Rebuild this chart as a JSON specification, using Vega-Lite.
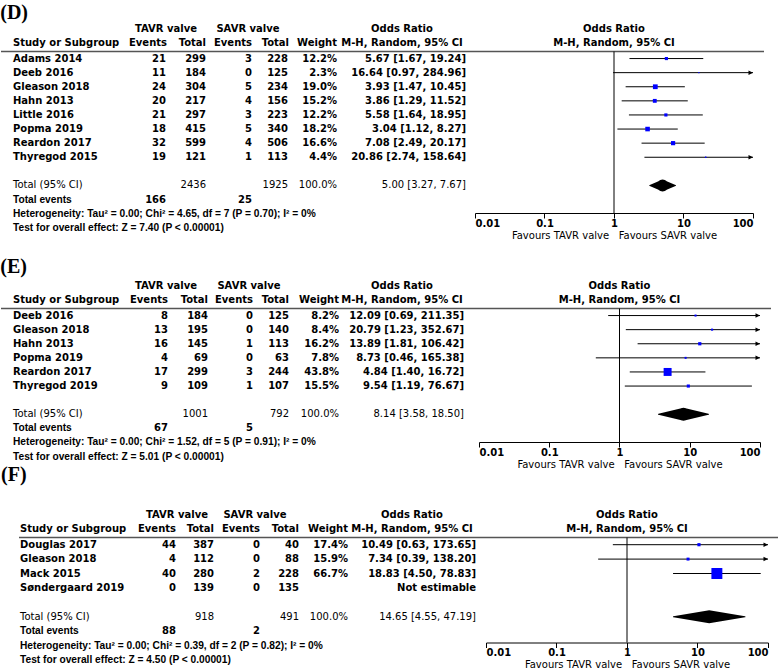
{
"$schema": "https://vega.github.io/schema/vega-lite/v6.json",
"padding": {"top": 2.5, "left": 0, "right": 0, "bottom": 0},
"bounds": "flush",
"spacing": 470,
"datasets": {
"hdr": [
{"label": "", "tavr": "TAVR valve", "savr": "SAVR valve", "orh": "Odds Ratio"},
{"label": "Study or Subgroup", "tev": "Events", "ttot": "Total", "sev": "Events", "stot": "Total", "wt": "Weight", "orh": "M-H, Random, 95% CI"}
],
"D": [
{"kind": "study", "label": "Adams 2014", "tev": "21", "ttot": "299", "sev": "3", "stot": "228", "wt": "12.2%", "ci": "5.67 [1.67, 19.24]", "or": 5.67, "lo": 1.67, "hi": 19.24, "w": 12.2},
{"kind": "study", "label": "Deeb 2016", "tev": "11", "ttot": "184", "sev": "0", "stot": "125", "wt": "2.3%", "ci": "16.64 [0.97, 284.96]", "or": 16.64, "lo": 0.97, "hi": 284.96, "w": 2.3},
{"kind": "study", "label": "Gleason 2018", "tev": "24", "ttot": "304", "sev": "5", "stot": "234", "wt": "19.0%", "ci": "3.93 [1.47, 10.45]", "or": 3.93, "lo": 1.47, "hi": 10.45, "w": 19.0},
{"kind": "study", "label": "Hahn 2013", "tev": "20", "ttot": "217", "sev": "4", "stot": "156", "wt": "15.2%", "ci": "3.86 [1.29, 11.52]", "or": 3.86, "lo": 1.29, "hi": 11.52, "w": 15.2},
{"kind": "study", "label": "Little 2016", "tev": "21", "ttot": "297", "sev": "3", "stot": "223", "wt": "12.2%", "ci": "5.58 [1.64, 18.95]", "or": 5.58, "lo": 1.64, "hi": 18.95, "w": 12.2},
{"kind": "study", "label": "Popma 2019", "tev": "18", "ttot": "415", "sev": "5", "stot": "340", "wt": "18.2%", "ci": "3.04 [1.12, 8.27]", "or": 3.04, "lo": 1.12, "hi": 8.27, "w": 18.2},
{"kind": "study", "label": "Reardon 2017", "tev": "32", "ttot": "599", "sev": "4", "stot": "506", "wt": "16.6%", "ci": "7.08 [2.49, 20.17]", "or": 7.08, "lo": 2.49, "hi": 20.17, "w": 16.6},
{"kind": "study", "label": "Thyregod 2015", "tev": "19", "ttot": "121", "sev": "1", "stot": "113", "wt": "4.4%", "ci": "20.86 [2.74, 158.64]", "or": 20.86, "lo": 2.74, "hi": 158.64, "w": 4.4},
{"kind": "total", "label": "Total (95% CI)", "ttot": "2436", "stot": "1925", "wt": "100.0%", "ci": "5.00 [3.27, 7.67]", "or": 5.00, "lo": 3.27, "hi": 7.67},
{"kind": "events", "label": "Total events", "tev": "166", "sev": "25"},
{"kind": "note", "label": "Heterogeneity: Tau² = 0.00; Chi² = 4.65, df = 7 (P = 0.70); I² = 0%"},
{"kind": "note", "label": "Test for overall effect: Z = 7.40 (P < 0.00001)"}
],
"E": [
{"kind": "study", "label": "Deeb 2016", "tev": "8", "ttot": "184", "sev": "0", "stot": "125", "wt": "8.2%", "ci": "12.09 [0.69, 211.35]", "or": 12.09, "lo": 0.69, "hi": 211.35, "w": 8.2},
{"kind": "study", "label": "Gleason 2018", "tev": "13", "ttot": "195", "sev": "0", "stot": "140", "wt": "8.4%", "ci": "20.79 [1.23, 352.67]", "or": 20.79, "lo": 1.23, "hi": 352.67, "w": 8.4},
{"kind": "study", "label": "Hahn 2013", "tev": "16", "ttot": "145", "sev": "1", "stot": "113", "wt": "16.2%", "ci": "13.89 [1.81, 106.42]", "or": 13.89, "lo": 1.81, "hi": 106.42, "w": 16.2},
{"kind": "study", "label": "Popma 2019", "tev": "4", "ttot": "69", "sev": "0", "stot": "63", "wt": "7.8%", "ci": "8.73 [0.46, 165.38]", "or": 8.73, "lo": 0.46, "hi": 165.38, "w": 7.8},
{"kind": "study", "label": "Reardon 2017", "tev": "17", "ttot": "299", "sev": "3", "stot": "244", "wt": "43.8%", "ci": "4.84 [1.40, 16.72]", "or": 4.84, "lo": 1.40, "hi": 16.72, "w": 43.8},
{"kind": "study", "label": "Thyregod 2019", "tev": "9", "ttot": "109", "sev": "1", "stot": "107", "wt": "15.5%", "ci": "9.54 [1.19, 76.67]", "or": 9.54, "lo": 1.19, "hi": 76.67, "w": 15.5},
{"kind": "total", "label": "Total (95% CI)", "ttot": "1001", "stot": "792", "wt": "100.0%", "ci": "8.14 [3.58, 18.50]", "or": 8.14, "lo": 3.58, "hi": 18.50},
{"kind": "events", "label": "Total events", "tev": "67", "sev": "5"},
{"kind": "note", "label": "Heterogeneity: Tau² = 0.00; Chi² = 1.52, df = 5 (P = 0.91); I² = 0%"},
{"kind": "note", "label": "Test for overall effect: Z = 5.01 (P < 0.00001)"}
],
"F": [
{"kind": "study", "label": "Douglas 2017", "tev": "44", "ttot": "387", "sev": "0", "stot": "40", "wt": "17.4%", "ci": "10.49 [0.63, 173.65]", "or": 10.49, "lo": 0.63, "hi": 173.65, "w": 17.4},
{"kind": "study", "label": "Gleason 2018", "tev": "4", "ttot": "112", "sev": "0", "stot": "88", "wt": "15.9%", "ci": "7.34 [0.39, 138.20]", "or": 7.34, "lo": 0.39, "hi": 138.20, "w": 15.9},
{"kind": "study", "label": "Mack 2015", "tev": "40", "ttot": "280", "sev": "2", "stot": "228", "wt": "66.7%", "ci": "18.83 [4.50, 78.83]", "or": 18.83, "lo": 4.50, "hi": 78.83, "w": 66.7},
{"kind": "study", "label": "Søndergaard 2019", "tev": "0", "ttot": "139", "sev": "0", "stot": "135", "ci": "Not estimable"},
{"kind": "total", "label": "Total (95% CI)", "ttot": "918", "stot": "491", "wt": "100.0%", "ci": "14.65 [4.55, 47.19]", "or": 14.65, "lo": 4.55, "hi": 47.19},
{"kind": "events", "label": "Total events", "tev": "88", "sev": "2"},
{"kind": "note", "label": "Heterogeneity: Tau² = 0.00; Chi² = 0.39, df = 2 (P = 0.82); I² = 0%"},
{"kind": "note", "label": "Test for overall effect: Z = 4.50 (P < 0.00001)"}
]
},
"hconcat": [
{"spacing": 95, "bounds": "flush",
 "vconcat": [
{"title": {"text": "(D)", "offset": 1},
 "width": 470, "height": 161.5,
 "layer": [
 {"data": {"values": [{}]}, "mark": {"type": "rule", "color": "#555555", "strokeWidth": 1.5},
  "encoding": {"y": {"datum": "Adams 2014", "type": "nominal", "bandPosition": 0, "scale": {"type": "band", "domain": ["", "Study or Subgroup", "Adams 2014", "Deeb 2016", "Gleason 2018", "Hahn 2013", "Little 2016", "Popma 2019", "Reardon 2017", "Thyregod 2015", " ", "Total (95% CI)", "Total events", "Heterogeneity: Tau² = 0.00; Chi² = 4.65, df = 7 (P = 0.70); I² = 0%", "Test for overall effect: Z = 7.40 (P < 0.00001)"], "range": [-28.2, 183.3], "paddingInner": 0, "paddingOuter": 0}}}},
 {"data": {"name": "D"}, "transform": [{"filter": "datum.kind == 'study'"}], "mark": {"type": "text", "align": "left", "fontWeight": "bold"},
  "encoding": {"x": {"datum": 12, "type": "quantitative", "scale": {"domain": [0, 470], "nice": false, "zero": false}, "axis": null}, "y": {"field": "label", "type": "nominal"}, "text": {"field": "label"}}},
 {"data": {"name": "D"}, "transform": [{"filter": "datum.kind == 'total'"}], "mark": {"type": "text", "align": "left"},
  "encoding": {"x": {"datum": 12, "type": "quantitative"}, "y": {"field": "label", "type": "nominal"}, "text": {"field": "label"}}},
 {"data": {"name": "D"}, "transform": [{"filter": "datum.kind == 'events' || datum.kind == 'note'"}], "mark": {"type": "text", "align": "left", "font": "Liberation Sans", "fontSize": 10.2, "fontWeight": "bold"},
  "encoding": {"x": {"datum": 12, "type": "quantitative"}, "y": {"field": "label", "type": "nominal"}, "text": {"field": "label"}}},
 {"data": {"name": "D"}, "transform": [{"filter": "datum.kind != 'total' && isValid(datum.tev)"}], "mark": {"type": "text", "align": "right", "fontWeight": "bold"},
  "encoding": {"x": {"datum": 165, "type": "quantitative"}, "y": {"field": "label", "type": "nominal"}, "text": {"field": "tev"}}},
 {"data": {"name": "D"}, "transform": [{"filter": "datum.kind != 'total' && isValid(datum.ttot)"}], "mark": {"type": "text", "align": "right", "fontWeight": "bold"},
  "encoding": {"x": {"datum": 205, "type": "quantitative"}, "y": {"field": "label", "type": "nominal"}, "text": {"field": "ttot"}}},
 {"data": {"name": "D"}, "transform": [{"filter": "datum.kind != 'total' && isValid(datum.sev)"}], "mark": {"type": "text", "align": "right", "fontWeight": "bold"},
  "encoding": {"x": {"datum": 251, "type": "quantitative"}, "y": {"field": "label", "type": "nominal"}, "text": {"field": "sev"}}},
 {"data": {"name": "D"}, "transform": [{"filter": "datum.kind != 'total' && isValid(datum.stot)"}], "mark": {"type": "text", "align": "right", "fontWeight": "bold"},
  "encoding": {"x": {"datum": 287, "type": "quantitative"}, "y": {"field": "label", "type": "nominal"}, "text": {"field": "stot"}}},
 {"data": {"name": "D"}, "transform": [{"filter": "datum.kind != 'total' && isValid(datum.wt)"}], "mark": {"type": "text", "align": "right", "fontWeight": "bold"},
  "encoding": {"x": {"datum": 336, "type": "quantitative"}, "y": {"field": "label", "type": "nominal"}, "text": {"field": "wt"}}},
 {"data": {"name": "D"}, "transform": [{"filter": "datum.kind != 'total' && isValid(datum.ci)"}], "mark": {"type": "text", "align": "right", "fontWeight": "bold"},
  "encoding": {"x": {"datum": 465, "type": "quantitative"}, "y": {"field": "label", "type": "nominal"}, "text": {"field": "ci"}}},
 {"data": {"name": "D"}, "transform": [{"filter": "datum.kind == 'total'"}], "mark": {"type": "text", "align": "right"},
  "encoding": {"x": {"datum": 205, "type": "quantitative"}, "y": {"field": "label", "type": "nominal"}, "text": {"field": "ttot"}}},
 {"data": {"name": "D"}, "transform": [{"filter": "datum.kind == 'total'"}], "mark": {"type": "text", "align": "right"},
  "encoding": {"x": {"datum": 287, "type": "quantitative"}, "y": {"field": "label", "type": "nominal"}, "text": {"field": "stot"}}},
 {"data": {"name": "D"}, "transform": [{"filter": "datum.kind == 'total'"}], "mark": {"type": "text", "align": "right"},
  "encoding": {"x": {"datum": 336, "type": "quantitative"}, "y": {"field": "label", "type": "nominal"}, "text": {"field": "wt"}}},
 {"data": {"name": "D"}, "transform": [{"filter": "datum.kind == 'total'"}], "mark": {"type": "text", "align": "right"},
  "encoding": {"x": {"datum": 465, "type": "quantitative"}, "y": {"field": "label", "type": "nominal"}, "text": {"field": "ci"}}},
 {"data": {"name": "hdr"}, "transform": [{"filter": "isValid(datum.tev)"}], "mark": {"type": "text", "align": "left", "fontWeight": "bold", "dy": -1},
  "encoding": {"x": {"datum": 12, "type": "quantitative"}, "y": {"field": "label", "type": "nominal"}, "text": {"field": "label"}}},
 {"data": {"name": "hdr"}, "transform": [{"filter": "isValid(datum.tev)"}], "mark": {"type": "text", "align": "right", "fontWeight": "bold", "dy": -1},
  "encoding": {"x": {"datum": 166, "type": "quantitative"}, "y": {"field": "label", "type": "nominal"}, "text": {"field": "tev"}}},
 {"data": {"name": "hdr"}, "transform": [{"filter": "isValid(datum.ttot)"}], "mark": {"type": "text", "align": "right", "fontWeight": "bold", "dy": -1},
  "encoding": {"x": {"datum": 205, "type": "quantitative"}, "y": {"field": "label", "type": "nominal"}, "text": {"field": "ttot"}}},
 {"data": {"name": "hdr"}, "transform": [{"filter": "isValid(datum.sev)"}], "mark": {"type": "text", "align": "right", "fontWeight": "bold", "dy": -1},
  "encoding": {"x": {"datum": 251, "type": "quantitative"}, "y": {"field": "label", "type": "nominal"}, "text": {"field": "sev"}}},
 {"data": {"name": "hdr"}, "transform": [{"filter": "isValid(datum.stot)"}], "mark": {"type": "text", "align": "right", "fontWeight": "bold", "dy": -1},
  "encoding": {"x": {"datum": 288, "type": "quantitative"}, "y": {"field": "label", "type": "nominal"}, "text": {"field": "stot"}}},
 {"data": {"name": "hdr"}, "transform": [{"filter": "isValid(datum.wt)"}], "mark": {"type": "text", "align": "right", "fontWeight": "bold", "dy": -1},
  "encoding": {"x": {"datum": 336, "type": "quantitative"}, "y": {"field": "label", "type": "nominal"}, "text": {"field": "wt"}}},
 {"data": {"name": "hdr"}, "transform": [{"filter": "isValid(datum.tavr)"}], "mark": {"type": "text", "align": "center", "fontWeight": "bold", "dy": -1},
  "encoding": {"x": {"datum": 165, "type": "quantitative"}, "y": {"field": "label", "type": "nominal"}, "text": {"field": "tavr"}}},
 {"data": {"name": "hdr"}, "transform": [{"filter": "isValid(datum.savr)"}], "mark": {"type": "text", "align": "center", "fontWeight": "bold", "dy": -1},
  "encoding": {"x": {"datum": 247, "type": "quantitative"}, "y": {"field": "label", "type": "nominal"}, "text": {"field": "savr"}}},
 {"data": {"name": "hdr"}, "mark": {"type": "text", "align": "center", "fontWeight": "bold", "dy": -1},
  "encoding": {"x": {"datum": 401, "type": "quantitative"}, "y": {"field": "label", "type": "nominal"}, "text": {"field": "orh"}}}
 ]},
{"title": {"text": "(E)", "offset": 4.3},
 "width": 470, "height": 133.5,
 "layer": [
 {"data": {"values": [{}]}, "mark": {"type": "rule", "color": "#555555", "strokeWidth": 1.5},
  "encoding": {"y": {"datum": "Deeb 2016", "type": "nominal", "bandPosition": 0, "scale": {"type": "band", "domain": ["", "Study or Subgroup", "Deeb 2016", "Gleason 2018", "Hahn 2013", "Popma 2019", "Reardon 2017", "Thyregod 2019", " ", "Total (95% CI)", "Total events", "Heterogeneity: Tau² = 0.00; Chi² = 1.52, df = 5 (P = 0.91); I² = 0%", "Test for overall effect: Z = 5.01 (P < 0.00001)"], "range": [-28.2, 155.1], "paddingInner": 0, "paddingOuter": 0}}}},
 {"data": {"name": "E"}, "transform": [{"filter": "datum.kind == 'study'"}], "mark": {"type": "text", "align": "left", "fontWeight": "bold"},
  "encoding": {"x": {"datum": 12, "type": "quantitative", "scale": {"domain": [0, 470], "nice": false, "zero": false}, "axis": null}, "y": {"field": "label", "type": "nominal"}, "text": {"field": "label"}}},
 {"data": {"name": "E"}, "transform": [{"filter": "datum.kind == 'total'"}], "mark": {"type": "text", "align": "left"},
  "encoding": {"x": {"datum": 12, "type": "quantitative"}, "y": {"field": "label", "type": "nominal"}, "text": {"field": "label"}}},
 {"data": {"name": "E"}, "transform": [{"filter": "datum.kind == 'events' || datum.kind == 'note'"}], "mark": {"type": "text", "align": "left", "font": "Liberation Sans", "fontSize": 10.2, "fontWeight": "bold"},
  "encoding": {"x": {"datum": 12, "type": "quantitative"}, "y": {"field": "label", "type": "nominal"}, "text": {"field": "label"}}},
 {"data": {"name": "E"}, "transform": [{"filter": "datum.kind != 'total' && isValid(datum.tev)"}], "mark": {"type": "text", "align": "right", "fontWeight": "bold"},
  "encoding": {"x": {"datum": 167, "type": "quantitative"}, "y": {"field": "label", "type": "nominal"}, "text": {"field": "tev"}}},
 {"data": {"name": "E"}, "transform": [{"filter": "datum.kind != 'total' && isValid(datum.ttot)"}], "mark": {"type": "text", "align": "right", "fontWeight": "bold"},
  "encoding": {"x": {"datum": 207, "type": "quantitative"}, "y": {"field": "label", "type": "nominal"}, "text": {"field": "ttot"}}},
 {"data": {"name": "E"}, "transform": [{"filter": "datum.kind != 'total' && isValid(datum.sev)"}], "mark": {"type": "text", "align": "right", "fontWeight": "bold"},
  "encoding": {"x": {"datum": 252, "type": "quantitative"}, "y": {"field": "label", "type": "nominal"}, "text": {"field": "sev"}}},
 {"data": {"name": "E"}, "transform": [{"filter": "datum.kind != 'total' && isValid(datum.stot)"}], "mark": {"type": "text", "align": "right", "fontWeight": "bold"},
  "encoding": {"x": {"datum": 288, "type": "quantitative"}, "y": {"field": "label", "type": "nominal"}, "text": {"field": "stot"}}},
 {"data": {"name": "E"}, "transform": [{"filter": "datum.kind != 'total' && isValid(datum.wt)"}], "mark": {"type": "text", "align": "right", "fontWeight": "bold"},
  "encoding": {"x": {"datum": 338, "type": "quantitative"}, "y": {"field": "label", "type": "nominal"}, "text": {"field": "wt"}}},
 {"data": {"name": "E"}, "transform": [{"filter": "datum.kind != 'total' && isValid(datum.ci)"}], "mark": {"type": "text", "align": "right", "fontWeight": "bold"},
  "encoding": {"x": {"datum": 463, "type": "quantitative"}, "y": {"field": "label", "type": "nominal"}, "text": {"field": "ci"}}},
 {"data": {"name": "E"}, "transform": [{"filter": "datum.kind == 'total'"}], "mark": {"type": "text", "align": "right"},
  "encoding": {"x": {"datum": 207, "type": "quantitative"}, "y": {"field": "label", "type": "nominal"}, "text": {"field": "ttot"}}},
 {"data": {"name": "E"}, "transform": [{"filter": "datum.kind == 'total'"}], "mark": {"type": "text", "align": "right"},
  "encoding": {"x": {"datum": 288, "type": "quantitative"}, "y": {"field": "label", "type": "nominal"}, "text": {"field": "stot"}}},
 {"data": {"name": "E"}, "transform": [{"filter": "datum.kind == 'total'"}], "mark": {"type": "text", "align": "right"},
  "encoding": {"x": {"datum": 338, "type": "quantitative"}, "y": {"field": "label", "type": "nominal"}, "text": {"field": "wt"}}},
 {"data": {"name": "E"}, "transform": [{"filter": "datum.kind == 'total'"}], "mark": {"type": "text", "align": "right"},
  "encoding": {"x": {"datum": 463, "type": "quantitative"}, "y": {"field": "label", "type": "nominal"}, "text": {"field": "ci"}}},
 {"data": {"name": "hdr"}, "transform": [{"filter": "isValid(datum.tev)"}], "mark": {"type": "text", "align": "left", "fontWeight": "bold", "dy": -1},
  "encoding": {"x": {"datum": 12, "type": "quantitative"}, "y": {"field": "label", "type": "nominal"}, "text": {"field": "label"}}},
 {"data": {"name": "hdr"}, "transform": [{"filter": "isValid(datum.tev)"}], "mark": {"type": "text", "align": "right", "fontWeight": "bold", "dy": -1},
  "encoding": {"x": {"datum": 167, "type": "quantitative"}, "y": {"field": "label", "type": "nominal"}, "text": {"field": "tev"}}},
 {"data": {"name": "hdr"}, "transform": [{"filter": "isValid(datum.ttot)"}], "mark": {"type": "text", "align": "right", "fontWeight": "bold", "dy": -1},
  "encoding": {"x": {"datum": 207, "type": "quantitative"}, "y": {"field": "label", "type": "nominal"}, "text": {"field": "ttot"}}},
 {"data": {"name": "hdr"}, "transform": [{"filter": "isValid(datum.sev)"}], "mark": {"type": "text", "align": "right", "fontWeight": "bold", "dy": -1},
  "encoding": {"x": {"datum": 252, "type": "quantitative"}, "y": {"field": "label", "type": "nominal"}, "text": {"field": "sev"}}},
 {"data": {"name": "hdr"}, "transform": [{"filter": "isValid(datum.stot)"}], "mark": {"type": "text", "align": "right", "fontWeight": "bold", "dy": -1},
  "encoding": {"x": {"datum": 288, "type": "quantitative"}, "y": {"field": "label", "type": "nominal"}, "text": {"field": "stot"}}},
 {"data": {"name": "hdr"}, "transform": [{"filter": "isValid(datum.wt)"}], "mark": {"type": "text", "align": "right", "fontWeight": "bold", "dy": -1},
  "encoding": {"x": {"datum": 338, "type": "quantitative"}, "y": {"field": "label", "type": "nominal"}, "text": {"field": "wt"}}},
 {"data": {"name": "hdr"}, "transform": [{"filter": "isValid(datum.tavr)"}], "mark": {"type": "text", "align": "center", "fontWeight": "bold", "dy": -1},
  "encoding": {"x": {"datum": 165, "type": "quantitative"}, "y": {"field": "label", "type": "nominal"}, "text": {"field": "tavr"}}},
 {"data": {"name": "hdr"}, "transform": [{"filter": "isValid(datum.savr)"}], "mark": {"type": "text", "align": "center", "fontWeight": "bold", "dy": -1},
  "encoding": {"x": {"datum": 248, "type": "quantitative"}, "y": {"field": "label", "type": "nominal"}, "text": {"field": "savr"}}},
 {"data": {"name": "hdr"}, "mark": {"type": "text", "align": "center", "fontWeight": "bold", "dy": -1},
  "encoding": {"x": {"datum": 401, "type": "quantitative"}, "y": {"field": "label", "type": "nominal"}, "text": {"field": "orh"}}}
 ]},
{"title": {"text": "(F)", "offset": 25},
 "width": 470, "height": 105,
 "layer": [
 {"data": {"values": [{}]}, "mark": {"type": "rule", "color": "#555555", "strokeWidth": 1.5},
  "encoding": {"x": {"datum": 18, "type": "quantitative", "scale": {"domain": [0, 470], "nice": false, "zero": false}, "axis": null}, "x2": {"datum": 470},
   "y": {"datum": "Douglas 2017", "type": "nominal", "bandPosition": 0, "scale": {"type": "band", "domain": ["", "Study or Subgroup", "Douglas 2017", "Gleason 2018", "Mack 2015", "Søndergaard 2019", " ", "Total (95% CI)", "Total events", "Heterogeneity: Tau² = 0.00; Chi² = 0.39, df = 2 (P = 0.82); I² = 0%", "Test for overall effect: Z = 4.50 (P < 0.00001)"], "range": [-28.8, 129.6], "paddingInner": 0, "paddingOuter": 0}}}},
 {"data": {"name": "F"}, "transform": [{"filter": "datum.kind == 'study'"}], "mark": {"type": "text", "align": "left", "fontWeight": "bold"},
  "encoding": {"x": {"datum": 19, "type": "quantitative"}, "y": {"field": "label", "type": "nominal"}, "text": {"field": "label"}}},
 {"data": {"name": "F"}, "transform": [{"filter": "datum.kind == 'total'"}], "mark": {"type": "text", "align": "left"},
  "encoding": {"x": {"datum": 19, "type": "quantitative"}, "y": {"field": "label", "type": "nominal"}, "text": {"field": "label"}}},
 {"data": {"name": "F"}, "transform": [{"filter": "datum.kind == 'events' || datum.kind == 'note'"}], "mark": {"type": "text", "align": "left", "font": "Liberation Sans", "fontSize": 10.2, "fontWeight": "bold"},
  "encoding": {"x": {"datum": 19, "type": "quantitative"}, "y": {"field": "label", "type": "nominal"}, "text": {"field": "label"}}},
 {"data": {"name": "F"}, "transform": [{"filter": "datum.kind != 'total' && isValid(datum.tev)"}], "mark": {"type": "text", "align": "right", "fontWeight": "bold"},
  "encoding": {"x": {"datum": 175, "type": "quantitative"}, "y": {"field": "label", "type": "nominal"}, "text": {"field": "tev"}}},
 {"data": {"name": "F"}, "transform": [{"filter": "datum.kind != 'total' && isValid(datum.ttot)"}], "mark": {"type": "text", "align": "right", "fontWeight": "bold"},
  "encoding": {"x": {"datum": 213, "type": "quantitative"}, "y": {"field": "label", "type": "nominal"}, "text": {"field": "ttot"}}},
 {"data": {"name": "F"}, "transform": [{"filter": "datum.kind != 'total' && isValid(datum.sev)"}], "mark": {"type": "text", "align": "right", "fontWeight": "bold"},
  "encoding": {"x": {"datum": 259, "type": "quantitative"}, "y": {"field": "label", "type": "nominal"}, "text": {"field": "sev"}}},
 {"data": {"name": "F"}, "transform": [{"filter": "datum.kind != 'total' && isValid(datum.stot)"}], "mark": {"type": "text", "align": "right", "fontWeight": "bold"},
  "encoding": {"x": {"datum": 298, "type": "quantitative"}, "y": {"field": "label", "type": "nominal"}, "text": {"field": "stot"}}},
 {"data": {"name": "F"}, "transform": [{"filter": "datum.kind != 'total' && isValid(datum.wt)"}], "mark": {"type": "text", "align": "right", "fontWeight": "bold"},
  "encoding": {"x": {"datum": 347, "type": "quantitative"}, "y": {"field": "label", "type": "nominal"}, "text": {"field": "wt"}}},
 {"data": {"name": "F"}, "transform": [{"filter": "datum.kind != 'total' && isValid(datum.ci)"}], "mark": {"type": "text", "align": "right", "fontWeight": "bold"},
  "encoding": {"x": {"datum": 475, "type": "quantitative"}, "y": {"field": "label", "type": "nominal"}, "text": {"field": "ci"}}},
 {"data": {"name": "F"}, "transform": [{"filter": "datum.kind == 'total'"}], "mark": {"type": "text", "align": "right"},
  "encoding": {"x": {"datum": 213, "type": "quantitative"}, "y": {"field": "label", "type": "nominal"}, "text": {"field": "ttot"}}},
 {"data": {"name": "F"}, "transform": [{"filter": "datum.kind == 'total'"}], "mark": {"type": "text", "align": "right"},
  "encoding": {"x": {"datum": 298, "type": "quantitative"}, "y": {"field": "label", "type": "nominal"}, "text": {"field": "stot"}}},
 {"data": {"name": "F"}, "transform": [{"filter": "datum.kind == 'total'"}], "mark": {"type": "text", "align": "right"},
  "encoding": {"x": {"datum": 347, "type": "quantitative"}, "y": {"field": "label", "type": "nominal"}, "text": {"field": "wt"}}},
 {"data": {"name": "F"}, "transform": [{"filter": "datum.kind == 'total'"}], "mark": {"type": "text", "align": "right"},
  "encoding": {"x": {"datum": 475, "type": "quantitative"}, "y": {"field": "label", "type": "nominal"}, "text": {"field": "ci"}}},
 {"data": {"name": "hdr"}, "transform": [{"filter": "isValid(datum.tev)"}], "mark": {"type": "text", "align": "left", "fontWeight": "bold", "dy": -1},
  "encoding": {"x": {"datum": 19, "type": "quantitative"}, "y": {"field": "label", "type": "nominal"}, "text": {"field": "label"}}},
 {"data": {"name": "hdr"}, "transform": [{"filter": "isValid(datum.tev)"}], "mark": {"type": "text", "align": "right", "fontWeight": "bold", "dy": -1},
  "encoding": {"x": {"datum": 175, "type": "quantitative"}, "y": {"field": "label", "type": "nominal"}, "text": {"field": "tev"}}},
 {"data": {"name": "hdr"}, "transform": [{"filter": "isValid(datum.ttot)"}], "mark": {"type": "text", "align": "right", "fontWeight": "bold", "dy": -1},
  "encoding": {"x": {"datum": 213, "type": "quantitative"}, "y": {"field": "label", "type": "nominal"}, "text": {"field": "ttot"}}},
 {"data": {"name": "hdr"}, "transform": [{"filter": "isValid(datum.sev)"}], "mark": {"type": "text", "align": "right", "fontWeight": "bold", "dy": -1},
  "encoding": {"x": {"datum": 259, "type": "quantitative"}, "y": {"field": "label", "type": "nominal"}, "text": {"field": "sev"}}},
 {"data": {"name": "hdr"}, "transform": [{"filter": "isValid(datum.stot)"}], "mark": {"type": "text", "align": "right", "fontWeight": "bold", "dy": -1},
  "encoding": {"x": {"datum": 298, "type": "quantitative"}, "y": {"field": "label", "type": "nominal"}, "text": {"field": "stot"}}},
 {"data": {"name": "hdr"}, "transform": [{"filter": "isValid(datum.wt)"}], "mark": {"type": "text", "align": "right", "fontWeight": "bold", "dy": -1},
  "encoding": {"x": {"datum": 347, "type": "quantitative"}, "y": {"field": "label", "type": "nominal"}, "text": {"field": "wt"}}},
 {"data": {"name": "hdr"}, "transform": [{"filter": "isValid(datum.tavr)"}], "mark": {"type": "text", "align": "center", "fontWeight": "bold", "dy": -1},
  "encoding": {"x": {"datum": 176, "type": "quantitative"}, "y": {"field": "label", "type": "nominal"}, "text": {"field": "tavr"}}},
 {"data": {"name": "hdr"}, "transform": [{"filter": "isValid(datum.savr)"}], "mark": {"type": "text", "align": "center", "fontWeight": "bold", "dy": -1},
  "encoding": {"x": {"datum": 254, "type": "quantitative"}, "y": {"field": "label", "type": "nominal"}, "text": {"field": "savr"}}},
 {"data": {"name": "hdr"}, "mark": {"type": "text", "align": "center", "fontWeight": "bold", "dy": -1},
  "encoding": {"x": {"datum": 411, "type": "quantitative"}, "y": {"field": "label", "type": "nominal"}, "text": {"field": "orh"}}}
 ]}
 ]},
{"spacing": 95, "bounds": "flush",
 "vconcat": [
{"width": 293, "height": 161.5,
 "resolve": {"scale": {"size": "independent"}},
 "layer": [
 {"data": {"values": [{}]}, "mark": {"type": "rule", "color": "#555555", "strokeWidth": 1.5},
  "encoding": {"y": {"datum": "Adams 2014", "type": "nominal", "bandPosition": 0, "scale": {"type": "band", "domain": ["", "Study or Subgroup", "Adams 2014", "Deeb 2016", "Gleason 2018", "Hahn 2013", "Little 2016", "Popma 2019", "Reardon 2017", "Thyregod 2015", " ", "Total (95% CI)", "Total events", "Heterogeneity: Tau² = 0.00; Chi² = 4.65, df = 7 (P = 0.70); I² = 0%", "Test for overall effect: Z = 7.40 (P < 0.00001)"], "range": [-28.2, 183.3], "paddingInner": 0, "paddingOuter": 0}}}},
 {"data": {"values": [{}]}, "mark": {"type": "rule", "color": "black", "strokeWidth": 1},
  "encoding": {"x": {"datum": 1, "type": "quantitative", "scale": {"type": "log", "domain": [0.01, 100], "range": [4, 282], "clamp": true, "nice": false},
   "axis": {"orient": "bottom", "values": [0.01, 0.1, 1, 10, 100], "format": "~g", "labelFlush": true, "labelFont": "DejaVu Sans", "labelFontWeight": "bold", "labelFontSize": 10, "labelColor": "black", "labelPadding": 0, "tickColor": "black", "tickSize": 5, "domainColor": "black", "domainWidth": 1, "grid": false, "title": "Favours TAVR valve\u00a0\u00a0\u00a0Favours SAVR valve", "titleFont": "DejaVu Sans", "titleFontWeight": "normal", "titleFontSize": 10, "titleColor": "black", "titlePadding": 2}}}},
 {"data": {"name": "D"}, "transform": [{"filter": "datum.kind == 'study' && isValid(datum.lo)"}], "mark": {"type": "rule", "color": "black", "strokeWidth": 1},
  "encoding": {"x": {"field": "lo", "type": "quantitative"}, "x2": {"field": "hi"}, "y": {"field": "label", "type": "nominal"}}},
 {"data": {"name": "D"}, "transform": [{"filter": "datum.kind == 'study' && datum.hi > 100"}], "mark": {"type": "point", "shape": "M-2,-1L0,0L-2,1Z", "filled": true, "color": "black", "opacity": 1, "size": 20, "strokeWidth": 0},
  "encoding": {"x": {"field": "hi", "type": "quantitative"}, "y": {"field": "label", "type": "nominal"}}},
 {"data": {"name": "D"}, "transform": [{"filter": "datum.kind == 'study' && isValid(datum.or)"}], "mark": {"type": "square", "color": "#0000ff", "opacity": 1},
  "encoding": {"x": {"field": "or", "type": "quantitative"}, "y": {"field": "label", "type": "nominal"}, "size": {"field": "w", "type": "quantitative", "scale": {"type": "pow", "exponent": 2, "domain": [0, 20], "range": [1, 25]}, "legend": null}}},
 {"data": {"name": "D"}, "transform": [{"filter": "datum.kind == 'total'"}, {"fold": ["lo", "or", "hi"], "as": ["k", "v"]}], "mark": {"type": "trail", "color": "black"},
  "encoding": {"x": {"field": "v", "type": "quantitative"}, "y": {"field": "label", "type": "nominal"}, "order": {"field": "v", "type": "quantitative"}, "size": {"field": "k", "type": "ordinal", "scale": {"type": "ordinal", "domain": ["lo", "or", "hi"], "range": [0, 12, 0]}, "legend": null}}},
 {"data": {"name": "hdr"}, "mark": {"type": "text", "align": "center", "fontWeight": "bold", "dy": -1},
  "encoding": {"x": {"datum": 1, "type": "quantitative"}, "y": {"field": "label", "type": "nominal"}, "text": {"field": "orh"}}}
 ]},
{"width": 300, "height": 133.5,
 "resolve": {"scale": {"size": "independent"}},
 "layer": [
 {"data": {"values": [{}]}, "mark": {"type": "rule", "color": "#555555", "strokeWidth": 1.5},
  "encoding": {"y": {"datum": "Deeb 2016", "type": "nominal", "bandPosition": 0, "scale": {"type": "band", "domain": ["", "Study or Subgroup", "Deeb 2016", "Gleason 2018", "Hahn 2013", "Popma 2019", "Reardon 2017", "Thyregod 2019", " ", "Total (95% CI)", "Total events", "Heterogeneity: Tau² = 0.00; Chi² = 1.52, df = 5 (P = 0.91); I² = 0%", "Test for overall effect: Z = 5.01 (P < 0.00001)"], "range": [-28.2, 155.1], "paddingInner": 0, "paddingOuter": 0}}}},
 {"data": {"values": [{}]}, "mark": {"type": "rule", "color": "black", "strokeWidth": 1},
  "encoding": {"x": {"datum": 1, "type": "quantitative", "scale": {"type": "log", "domain": [0.01, 100], "range": [8, 289], "clamp": true, "nice": false},
   "axis": {"orient": "bottom", "values": [0.01, 0.1, 1, 10, 100], "format": "~g", "labelFlush": true, "labelFont": "DejaVu Sans", "labelFontWeight": "bold", "labelFontSize": 10, "labelColor": "black", "labelPadding": 0, "tickColor": "black", "tickSize": 5, "domainColor": "black", "domainWidth": 1, "grid": false, "title": "Favours TAVR valve\u00a0\u00a0\u00a0Favours SAVR valve", "titleFont": "DejaVu Sans", "titleFontWeight": "normal", "titleFontSize": 10, "titleColor": "black", "titlePadding": 2}}}},
 {"data": {"name": "E"}, "transform": [{"filter": "datum.kind == 'study' && isValid(datum.lo)"}], "mark": {"type": "rule", "color": "black", "strokeWidth": 1},
  "encoding": {"x": {"field": "lo", "type": "quantitative"}, "x2": {"field": "hi"}, "y": {"field": "label", "type": "nominal"}}},
 {"data": {"name": "E"}, "transform": [{"filter": "datum.kind == 'study' && datum.hi > 100"}], "mark": {"type": "point", "shape": "M-2,-1L0,0L-2,1Z", "filled": true, "color": "black", "opacity": 1, "size": 20, "strokeWidth": 0},
  "encoding": {"x": {"field": "hi", "type": "quantitative"}, "y": {"field": "label", "type": "nominal"}}},
 {"data": {"name": "E"}, "transform": [{"filter": "datum.kind == 'study' && isValid(datum.or)"}], "mark": {"type": "square", "color": "#0000ff", "opacity": 1},
  "encoding": {"x": {"field": "or", "type": "quantitative"}, "y": {"field": "label", "type": "nominal"}, "size": {"field": "w", "type": "quantitative", "scale": {"type": "pow", "exponent": 2, "domain": [0, 44], "range": [2, 64]}, "legend": null}}},
 {"data": {"name": "E"}, "transform": [{"filter": "datum.kind == 'total'"}, {"fold": ["lo", "or", "hi"], "as": ["k", "v"]}], "mark": {"type": "trail", "color": "black"},
  "encoding": {"x": {"field": "v", "type": "quantitative"}, "y": {"field": "label", "type": "nominal"}, "order": {"field": "v", "type": "quantitative"}, "size": {"field": "k", "type": "ordinal", "scale": {"type": "ordinal", "domain": ["lo", "or", "hi"], "range": [0, 13, 0]}, "legend": null}}},
 {"data": {"name": "hdr"}, "mark": {"type": "text", "align": "center", "fontWeight": "bold", "dy": -1},
  "encoding": {"x": {"datum": 1, "type": "quantitative"}, "y": {"field": "label", "type": "nominal"}, "text": {"field": "orh"}}}
 ]},
{"width": 308, "height": 105,
 "resolve": {"scale": {"size": "independent"}},
 "layer": [
 {"data": {"values": [{}]}, "mark": {"type": "rule", "color": "#555555", "strokeWidth": 1.5},
  "encoding": {"y": {"datum": "Douglas 2017", "type": "nominal", "bandPosition": 0, "scale": {"type": "band", "domain": ["", "Study or Subgroup", "Douglas 2017", "Gleason 2018", "Mack 2015", "Søndergaard 2019", " ", "Total (95% CI)", "Total events", "Heterogeneity: Tau² = 0.00; Chi² = 0.39, df = 2 (P = 0.82); I² = 0%", "Test for overall effect: Z = 4.50 (P < 0.00001)"], "range": [-28.8, 129.6], "paddingInner": 0, "paddingOuter": 0}}}},
 {"data": {"values": [{}]}, "mark": {"type": "rule", "color": "black", "strokeWidth": 1},
  "encoding": {"x": {"datum": 1, "type": "quantitative", "scale": {"type": "log", "domain": [0.01, 100], "range": [15, 297], "clamp": true, "nice": false},
   "axis": {"orient": "bottom", "values": [0.01, 0.1, 1, 10, 100], "format": "~g", "labelFlush": true, "labelFont": "DejaVu Sans", "labelFontWeight": "bold", "labelFontSize": 10, "labelColor": "black", "labelPadding": 0, "tickColor": "black", "tickSize": 5, "domainColor": "black", "domainWidth": 1, "grid": false, "title": "Favours TAVR valve\u00a0\u00a0\u00a0Favours SAVR valve", "titleFont": "DejaVu Sans", "titleFontWeight": "normal", "titleFontSize": 10, "titleColor": "black", "titlePadding": 2}}}},
 {"data": {"name": "F"}, "transform": [{"filter": "datum.kind == 'study' && isValid(datum.lo)"}], "mark": {"type": "rule", "color": "black", "strokeWidth": 1},
  "encoding": {"x": {"field": "lo", "type": "quantitative"}, "x2": {"field": "hi"}, "y": {"field": "label", "type": "nominal"}}},
 {"data": {"name": "F"}, "transform": [{"filter": "datum.kind == 'study' && datum.hi > 100"}], "mark": {"type": "point", "shape": "M-2,-1L0,0L-2,1Z", "filled": true, "color": "black", "opacity": 1, "size": 20, "strokeWidth": 0},
  "encoding": {"x": {"field": "hi", "type": "quantitative"}, "y": {"field": "label", "type": "nominal"}}},
 {"data": {"name": "F"}, "transform": [{"filter": "datum.kind == 'study' && isValid(datum.or)"}], "mark": {"type": "square", "color": "#0000ff", "opacity": 1},
  "encoding": {"x": {"field": "or", "type": "quantitative"}, "y": {"field": "label", "type": "nominal"}, "size": {"field": "w", "type": "quantitative", "scale": {"type": "pow", "exponent": 2, "domain": [0, 67], "range": [2, 121]}, "legend": null}}},
 {"data": {"name": "F"}, "transform": [{"filter": "datum.kind == 'total'"}, {"fold": ["lo", "or", "hi"], "as": ["k", "v"]}], "mark": {"type": "trail", "color": "black"},
  "encoding": {"x": {"field": "v", "type": "quantitative"}, "y": {"field": "label", "type": "nominal"}, "order": {"field": "v", "type": "quantitative"}, "size": {"field": "k", "type": "ordinal", "scale": {"type": "ordinal", "domain": ["lo", "or", "hi"], "range": [0, 13, 0]}, "legend": null}}},
 {"data": {"name": "hdr"}, "mark": {"type": "text", "align": "center", "fontWeight": "bold", "dy": -1},
  "encoding": {"x": {"datum": 1, "type": "quantitative"}, "y": {"field": "label", "type": "nominal"}, "text": {"field": "orh"}}}
 ]}
 ]}
],
"config": {
"view": {"stroke": null},
"axisY": {"disable": true},
"text": {"font": "DejaVu Sans", "fontSize": 10, "color": "black", "baseline": "middle"},
"title": {"font": "Liberation Serif", "fontSize": 20, "fontWeight": "bold", "anchor": "start", "color": "black"}
}
}
